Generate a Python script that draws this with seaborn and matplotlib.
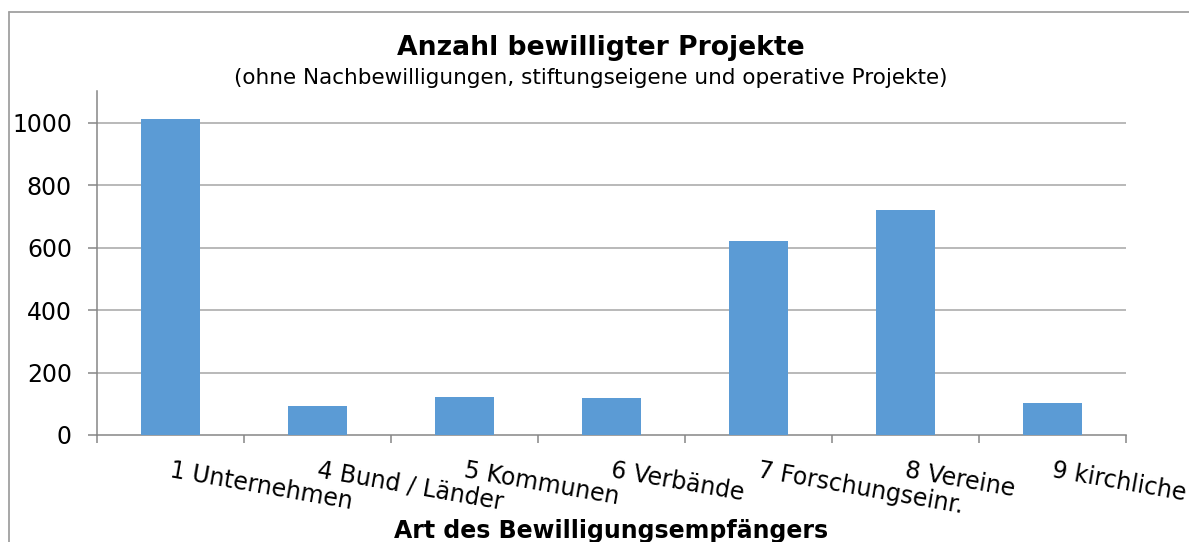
import matplotlib
matplotlib.use("Agg")
import matplotlib.pyplot as plt
import matplotlib.transforms as mtransforms
import seaborn as sns
import pandas as pd
from matplotlib.lines import Line2D

# ---- data ----
categories = ["1 Unternehmen", "4 Bund / Länder", "5 Kommunen", "6 Verbände",
              "7 Forschungseinr.", "8 Vereine", "9 kirchliche"]
values = [1011, 93, 123, 118, 621, 719, 104]
y_ticks = [0, 200, 400, 600, 800, 1000]

title = "Anzahl bewilligter Projekte"
subtitle = "(ohne Nachbewilligungen, stiftungseigene und operative Projekte)"
x_title = "Art des Bewilligungsempfängers"

sns.set_theme(style="white")
plt.rcParams["font.family"] = ["DejaVu Sans"]

W, H = 1189, 542
DPI = 100
fig = plt.figure(figsize=(W / DPI, H / DPI), dpi=DPI)
fig.patch.set_facecolor("white")

def fx(px):
    return px / W

def fy(py):
    return 1 - py / H

left, right = 97, 1126
y0px, ytop = 435, 91.4
ax = fig.add_axes([fx(left), fy(y0px), fx(right - left), (y0px - ytop) / H])

df = pd.DataFrame({"cat": categories, "val": values})
sns.barplot(data=df, x="cat", y="val", color="#5B9BD5", saturation=1,
            width=0.4, ax=ax, zorder=3, linewidth=0, edgecolor="none")

grid_c = "#A6A6A6"
axis_c = "#868686"
ax.set_ylim(0, 1100)
ax.set_xlim(-0.5, len(categories) - 0.5)
ax.set_yticks(y_ticks)
ax.set_yticklabels([str(v) for v in y_ticks])
for v in y_ticks[1:]:
    ax.axhline(v, color=grid_c, lw=1.1, zorder=1)

for s in ["top", "right"]:
    ax.spines[s].set_visible(False)
for s in ["left", "bottom"]:
    ax.spines[s].set_color(axis_c)
    ax.spines[s].set_linewidth(1.1)

ax.set_xlabel("")
ax.set_ylabel("")

ax.tick_params(axis="y", which="major", direction="out", length=6.5, width=1.1,
               color=axis_c, pad=11.5, labelsize=17, labelcolor="black", left=True)
ax.set_xticks(range(len(categories)))
ax.set_xticks([i - 0.5 for i in range(len(categories) + 1)], minor=True)
ax.tick_params(axis="x", which="minor", direction="out", length=5.5, width=1.1,
               color=axis_c, bottom=True)
ax.tick_params(axis="x", which="major", length=0, pad=16.5, labelsize=17,
               labelcolor="black", bottom=True)
ax.set_xticklabels(categories, rotation=-10, rotation_mode="anchor",
                   ha="left", va="top")
shift = mtransforms.ScaledTranslation(2 / DPI, 0, fig.dpi_scale_trans)
for lab in ax.get_xticklabels():
    lab.set_transform(lab.get_transform() + shift)

# titles
fig.text(fx(601), fy(48), title, ha="center", va="center", fontsize=19.2,
         fontweight="bold", color="black")
fig.text(fx(591), fy(78), subtitle, ha="center", va="center", fontsize=15.5,
         color="black")
fig.text(fx(611), fy(531), x_title, ha="center", va="center", fontsize=17,
         fontweight="bold", color="black")

# chart-area frame (cropped on right and bottom)
frame_c = "#A0A0A0"
fig.add_artist(Line2D([fx(9), fx(9)], [fy(12), 0], transform=fig.transFigure,
                      color=frame_c, lw=1.3))
fig.add_artist(Line2D([fx(9), 1], [fy(12), fy(12)], transform=fig.transFigure,
                      color=frame_c, lw=1.3))

fig.savefig("out.png", dpi=DPI, facecolor="white")
